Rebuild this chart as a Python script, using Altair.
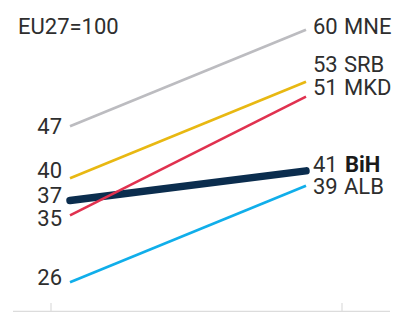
import altair as alt
import pandas as pd

# ---- data ----
countries = ["MNE", "SRB", "MKD", "BiH", "ALB"]
v2005 = [47, 40, 35, 37, 26]
v2021 = [60, 53, 51, 41, 39]
years = [2005, 2021]
note = "EU27=100"

# ---- styling / layout (not data) ----
colors = ["#bcbcc0", "#e8b812", "#e0314f", "#0b2d4e", "#10aeea"]
left_dy = [1, -7, 4, -5, -4]      # label nudges in pixels
right_dy = [-3, -17, -9, -6, 1.5]
FONT = "Roboto"
FS = 22
TXT = "#2e2e2e"
H = 312
YDOM = [22, 64]
PX_PER_UNIT = H / (YDOM[1] - YDOM[0])

rows = []
for i, c in enumerate(countries):
    rows.append({"country": c, "year": years[0], "value": v2005[i], "dy": left_dy[i]})
    rows.append({"country": c, "year": years[1], "value": v2021[i], "dy": right_dy[i]})
df = pd.DataFrame(rows)

xs_line = alt.Scale(domain=years, range=[70, 306])
xs_axis = alt.Scale(domain=years, range=[51, 342])
ys = alt.Scale(domain=YDOM)
cscale = alt.Scale(domain=countries, range=colors)

base = alt.Chart(df)
lbl = base.transform_calculate(ly=f"datum.value - datum.dy / {PX_PER_UNIT}")
X = alt.X("year:Q", scale=xs_line, axis=None)
Y = alt.Y("value:Q", scale=ys, axis=None)
LY = alt.Y("ly:Q", scale=ys, axis=None)

bih_line = base.transform_filter(alt.datum.country == "BiH").mark_line(
    strokeWidth=7.5, strokeCap="round"
).encode(x=X, y=Y, color=alt.Color("country:N", scale=cscale, legend=None))

thin_lines = base.transform_filter(alt.datum.country != "BiH").mark_line(
    strokeWidth=2.6
).encode(x=X, y=Y, color=alt.Color("country:N", scale=cscale, legend=None),
         detail="country:N")

left_txt = lbl.transform_filter(alt.datum.year == years[0]).mark_text(
    align="right", baseline="middle", dx=-8, font=FONT, fontSize=FS, color=TXT
).encode(x=X, y=LY, text=alt.Text("value:Q"))

right_num = lbl.transform_filter(alt.datum.year == years[1]).mark_text(
    align="left", baseline="middle", dx=7, font=FONT, fontSize=FS, color=TXT
).encode(x=X, y=LY, text=alt.Text("value:Q"))

right_name = lbl.transform_filter(
    (alt.datum.year == years[1]) & (alt.datum.country != "BiH")
).mark_text(
    align="left", baseline="middle", dx=38, font=FONT, fontSize=FS, color=TXT
).encode(x=X, y=LY, text="country:N")

right_name_b = lbl.transform_filter(
    (alt.datum.year == years[1]) & (alt.datum.country == "BiH")
).mark_text(
    align="left", baseline="middle", dx=39, font=FONT, fontSize=FS, color="#1a1a1a",
    fontWeight="bold"
).encode(x=X, y=LY, text="country:N")

note_txt = alt.Chart(pd.DataFrame({"t": [note]})).mark_text(
    align="left", baseline="middle", font=FONT, fontSize=FS, color=TXT
).encode(x=alt.value(18), y=alt.value(27), text="t:N")

baseline = alt.Chart(pd.DataFrame({"a": [0]})).mark_rule(
    color="#dcdcdc", strokeWidth=1.5
).encode(x=alt.value(13), x2=alt.value(390), y=alt.value(311.5))

axis_layer = alt.Chart(pd.DataFrame({"year": years})).mark_rule(
    color="#dcdcdc", strokeWidth=1.2
).encode(
    x=alt.X("year:Q", scale=xs_axis, axis=alt.Axis(
        values=years, format="d", domain=False, ticks=False, grid=False, title=None,
        labelFont=FONT, labelFontSize=FS, labelColor=TXT, labelPadding=5,
        labelFlush=False, labelOverlap=False)),
    y=alt.value(303), y2=alt.value(311),
)

chart = alt.layer(
    baseline, axis_layer, bih_line, thin_lines, left_txt, right_num, right_name,
    right_name_b, note_txt
).resolve_scale(x="independent").properties(
    width=406, height=H, padding=0, autosize=alt.AutoSizeParams(type="none"),
    background="white"
).configure_view(stroke=None)

chart.save("out.html", embed_options={"renderer": "svg", "actions": False})
